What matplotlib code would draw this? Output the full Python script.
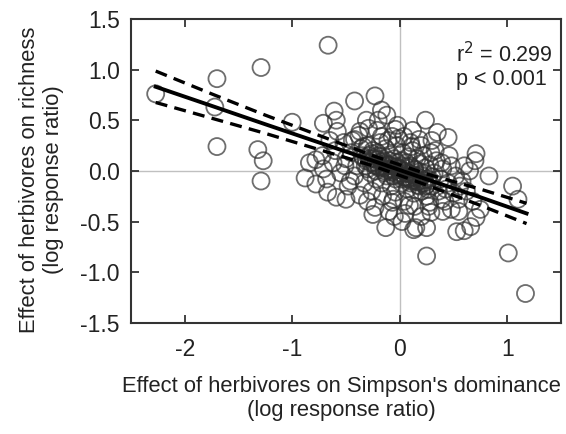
import numpy as np
import matplotlib
matplotlib.use('Agg')
import matplotlib.pyplot as plt

plt.rcParams['font.family'] = ['Liberation Sans', 'DejaVu Sans']

# points (x = Simpson's dominance LRR, y = richness LRR)
outer_x = [-0.666, -1.29, -1.70, -2.27, -1.72, -1.70, -1.32, -1.27, -1.29, -1.00,
           -0.23, -0.42, -0.61, -0.17, 0.24, 0.45, 0.35, 0.71, 0.70, 0.65,
           0.83, 1.05, 1.10, 1.01, 1.17, 0.25, -0.13, 0.15, 0.25, 0.13,
           0.53, 0.60, 0.66, 0.71, 0.55, 0.48, -0.25, -0.23, -0.50, -0.59,
           -0.67, -0.78, -0.88, -0.84, -0.78, -0.71, -0.51, -0.71, -0.59, -0.58,
           -0.46, -0.37, -0.07, -0.04, 0.09, 0.28, 0.29, 0.39, 0.43, 0.55,
           0.56, 0.39, 0.29, 0.18, 0.11, 0.04, -0.04, -0.07, -0.17, -0.31,
           -0.37, -0.42, -0.34, -0.21]
outer_y = [1.24, 1.02, 0.91, 0.76, 0.63, 0.24, 0.21, 0.10, -0.10, 0.48,
           0.74, 0.69, 0.59, 0.60, 0.50, 0.33, 0.38, 0.17, 0.10, 0.00,
           -0.05, -0.15, -0.28, -0.81, -1.21, -0.84, -0.56, -0.56, -0.56, -0.58,
           -0.60, -0.59, -0.55, -0.46, -0.40, -0.38, -0.43, -0.36, -0.28, -0.26,
           -0.21, -0.13, -0.07, 0.08, 0.11, 0.02, 0.05, 0.47, 0.50, 0.39,
           -0.10, -0.24, -0.31, -0.21, -0.34, -0.31, -0.41, -0.28, -0.18, -0.28,
           -0.15, 0.08, 0.18, 0.31, 0.24, 0.34, 0.41, 0.34, 0.34, 0.50,
           0.39, 0.31, 0.24, 0.18]

core_x = [-0.35, -0.32, -0.30, -0.28, -0.27, -0.25, -0.24, -0.22, -0.20, -0.19,
          -0.18, -0.17, -0.15, -0.14, -0.13, -0.12, -0.10, -0.09, -0.08, -0.07,
          -0.05, -0.04, -0.03, -0.02, 0.00, 0.01, 0.02, 0.03, 0.04, 0.05,
          0.06, 0.07, 0.08, 0.09, 0.10, 0.11, 0.12, 0.13, 0.14, 0.15,
          0.16, 0.17, 0.18, 0.19, 0.20, 0.21, 0.22, 0.23, 0.24, 0.25,
          0.26, 0.28, 0.30, 0.32, 0.34, 0.36, 0.38, 0.40, 0.42, 0.45,
          0.48, 0.50, 0.52, 0.58, 0.62, 0.68, 0.75, -0.40, -0.42, -0.45,
          -0.48, -0.50, -0.52, -0.55, -0.60, -0.62, -0.65, -0.68, -0.72, -0.38,
          -0.33, -0.29, -0.26, -0.21, -0.16, -0.11, -0.06, -0.01, 0.04, 0.10,
          0.14, 0.20, 0.27, 0.33, 0.40, 0.46, 0.05, -0.10, 0.20, -0.30,
          0.60, -0.23, -0.15, -0.05, 0.02, 0.08, 0.16, 0.24, -0.36, -0.44,
          0.30, 0.12, -0.02, -0.20, -0.12, 0.02, -0.05]
core_y = [0.15, 0.05, 0.25, 0.12, -0.02, 0.20, 0.08, -0.08, 0.15, 0.03,
          0.28, -0.12, 0.10, 0.00, 0.22, -0.05, 0.06, 0.16, -0.15, 0.02,
          0.12, -0.08, 0.25, 0.04, -0.02, 0.10, -0.12, 0.18, 0.00, -0.06,
          0.08, -0.18, 0.14, -0.03, 0.05, -0.10, 0.20, -0.22, 0.02, -0.07,
          0.12, -0.14, -0.01, 0.07, -0.20, -0.05, 0.15, -0.12, 0.03, -0.25,
          -0.08, 0.06, -0.15, -0.02, 0.10, -0.20, -0.08, 0.02, -0.30, -0.12,
          0.05, -0.22, -0.05, -0.10, -0.20, -0.30, -0.38, 0.05, -0.05, 0.18,
          -0.15, 0.12, 0.28, -0.02, 0.20, 0.08, 0.30, -0.08, 0.15, 0.35,
          -0.12, 0.42, -0.20, 0.40, -0.25, 0.30, -0.28, 0.32, -0.30, 0.28,
          -0.35, 0.25, -0.35, 0.20, -0.40, 0.15, -0.42, -0.40, -0.45, -0.30,
          0.05, 0.05, 0.05, 0.00, 0.05, -0.08, -0.10, -0.15, 0.22, 0.30,
          0.30, 0.40, 0.45, 0.50, 0.55, -0.50, -0.45]

# tightly packed points hugging the fit line in the middle of the cloud
dense_x = [-0.34, -0.31, -0.29, -0.27, -0.25, -0.23, -0.21, -0.19, -0.17, -0.15,
           -0.13, -0.11, -0.09, -0.07, -0.05, -0.03, -0.01, 0.01, 0.03, 0.05,
           0.07, 0.09, 0.11, 0.13, 0.15, 0.17, 0.19, 0.21, 0.23, 0.25,
           -0.30, -0.26, -0.22, -0.18, -0.14, -0.10, -0.06, -0.02, 0.02, 0.06,
           0.10, 0.14, 0.18, 0.22, 0.26, 0.30]
dense_y = [0.13, 0.10, 0.15, 0.08, 0.12, 0.06, 0.11, 0.04, 0.09, 0.03,
           0.07, 0.01, 0.05, -0.01, 0.04, -0.03, 0.02, -0.04, 0.00, -0.06,
           -0.02, -0.07, -0.04, -0.09, -0.05, -0.11, -0.07, -0.12, -0.09, -0.14,
           0.02, 0.17, 0.00, 0.14, -0.02, 0.10, -0.05, 0.08, -0.08, 0.04,
           -0.12, 0.01, -0.15, -0.02, -0.18, -0.06]

# regression line and 95% band
fit_x = [-2.27, -1.75, -1.25, -0.75, -0.25, 0.25, 0.75, 1.18]
fit_y = [0.83, 0.642, 0.46, 0.28, 0.10, -0.083, -0.26, -0.42]
ci_hi = [0.985, 0.76, 0.55, 0.35, 0.15, -0.03, -0.18, -0.32]
ci_lo = [0.675, 0.52, 0.37, 0.21, 0.05, -0.14, -0.34, -0.52]

fig = plt.figure(figsize=(5.66, 4.34), dpi=100)
ax = fig.add_axes([0.2314, 0.256, 0.7597, 0.7005])

ax.axhline(0, color='#c0c0c0', lw=1, zorder=0)
ax.axvline(0, color='#c0c0c0', lw=1, zorder=0)

ax.scatter(outer_x + core_x + dense_x, outer_y + core_y + dense_y, s=150,
           facecolors='none', edgecolors='#303030', linewidths=1.3, alpha=0.7,
           zorder=2)

ax.plot(fit_x, fit_y, color='black', lw=2.8, zorder=3)
ax.plot(fit_x, ci_hi, color='black', lw=2.4, dashes=(3.6, 2.2), zorder=3)
ax.plot(fit_x, ci_lo, color='black', lw=2.4, dashes=(3.6, 2.2), zorder=3)

ax.text(0.52, 1.27, 'r$^2$ = 0.299\np < 0.001', fontsize=15.5, va='top', ha='left',
        linespacing=1.1, color='#222222', zorder=4)

ax.set_xlim(-2.5, 1.5)
ax.set_ylim(-1.5, 1.5)
ax.set_xticks([-2, -1, 0, 1])
ax.set_yticks([-1.5, -1.0, -0.5, 0.0, 0.5, 1.0, 1.5])
ax.set_xticklabels(['-2', '-1', '0', '1'])
ax.set_yticklabels(['-1.5', '-1.0', '-0.5', '0.0', '0.5', '1.0', '1.5'])
ax.tick_params(direction='in', length=6, width=1.2, top=True, right=True,
               labelsize=16.5, colors='#222222')
ax.tick_params(axis='y', pad=8)
ax.tick_params(axis='x', pad=11)
for sp in ax.spines.values():
    sp.set_linewidth(1.5)
    sp.set_color('#333333')

ax.set_xlabel("Effect of herbivores on Simpson's dominance\n(log response ratio)",
              fontsize=15.8, color='#222222')
ax.set_ylabel('Effect of herbivores on richness\n(log response ratio)',
              fontsize=15.8, color='#222222')
ax.xaxis.set_label_coords(0.49, -0.175)
ax.yaxis.set_label_coords(-0.155, 0.47)

fig.savefig('out.png', dpi=100)
